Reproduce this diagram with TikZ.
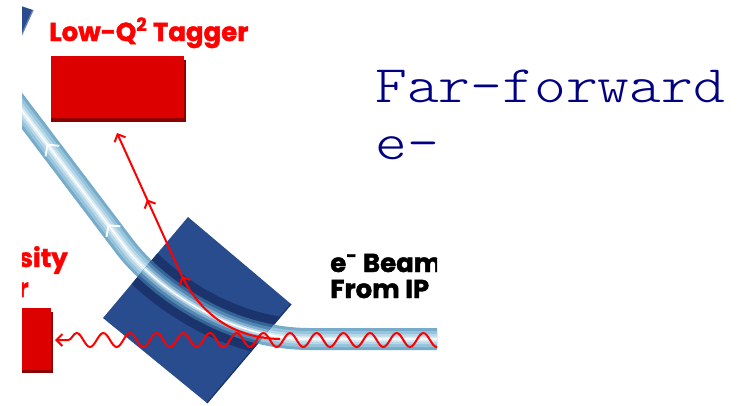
\documentclass[tikz,border=0pt]{standalone}
\usepackage{fontspec}
\newfontfamily\geofont{Poppins}[BoldFeatures={FakeBold=1.6}]
\newfontfamily\titlefont{lmmonolt10-regular.otf}[FakeStretch=1.15]
\usetikzlibrary{arrows.meta,decorations.pathmorphing,decorations.markings}

\definecolor{detred}{RGB}{221,0,0}
\definecolor{detshadow}{RGB}{140,0,0}
\definecolor{labelred}{RGB}{255,0,0}
\definecolor{magnet}{RGB}{41,76,142}
\definecolor{magnetdark}{RGB}{28,52,110}
\definecolor{titlenavy}{RGB}{0,0,128}
% beam pipe, from the outer wall to the centre line
\definecolor{tubeA}{RGB}{118,172,202}
\definecolor{tubeB}{RGB}{150,196,220}
\definecolor{tubeC}{RGB}{184,216,232}
\definecolor{tubeD}{RGB}{220,236,244}
% the same, seen through the magnet
\definecolor{tubeinA}{RGB}{52,100,150}
\definecolor{tubeinB}{RGB}{85,135,180}
\definecolor{tubeinC}{RGB}{130,175,205}
\definecolor{tubeinD}{RGB}{185,215,232}

% centre line of the electron beam pipe (coordinates in pixels)
\def\beampipe{(445,339) -- (310,339) .. controls (220,339) and (150,280) .. (125,247) -- (10,95)}
\def\magnetface{(188,217) -- (291,304) -- (207,403) -- (103,318) -- cycle}

\begin{document}
\begin{tikzpicture}[x=0.75pt,y=-0.75pt,>={Straight Barb[length=4.5pt,width=9pt]},
  redlabel/.style={inner sep=0pt,text=labelred,font=\geofont\bfseries\fontsize{19.5}{22}\selectfont},
  blacklabel/.style={inner sep=0pt,font=\geofont\bfseries\fontsize{19.5}{22}\selectfont},
  titletext/.style={inner sep=0pt,text=titlenavy,font=\titlefont\fontsize{39.5}{46}\selectfont},
  electron/.style={labelred,line width=1.5pt},
  photon/.style={electron,decorate,
    decoration={snake,amplitude=5.25pt,segment length=20pt,post length=10pt}},
  beamtip/.style={white,line width=1.4pt}]
  \useasboundingbox (0,0) rectangle (737,405);

  \begin{scope}
    \clip (22,0) rectangle (437,405);
    % Magnets.
    \fill[magnet] (0,-1) -- (33,10) -- (13,54) -- cycle;
    \draw[magnet!70!white,line width=1pt] (33,10) -- (13,54);
    \fill[magnet] \magnetface;
    \draw[magnetdark,line width=1pt] (291,304) -- (207,403);
    % Beam pipe.
    \foreach \w/\c in {16.5/tubeA,12/tubeB,7.5/tubeC,3.75/tubeD,1.1/white}
      \draw[\c,line width=\w pt] \beampipe;
    \begin{scope}
      \clip \magnetface;
      \draw[magnetdark,line width=30pt] \beampipe;
      \foreach \w/\c in {16.5/tubeinA,12/tubeinB,7.5/tubeinC,3.75/tubeinD,1.1/white}
        \draw[\c,line width=\w pt] \beampipe;
    \end{scope}
    \path[decorate,decoration={markings,
        mark=at position 0.15 with {\arrow[beamtip]{Straight Barb[length=6pt,width=13pt]}},
        mark=at position 0.68 with {\arrow[beamtip]{Straight Barb[length=6pt,width=13pt]}}}]
      (125,247) -- (10,95);

    % Detectors.
    \fill[detshadow] (51,60) rectangle (186,122);
    \fill[detred] (51,56) rectangle (184,118);
    \fill[detshadow] (10,312) rectangle (53,373);
    \fill[detred] (10,308) rectangle (51,370);

    % Scattered electron and bremsstrahlung photon.
    \draw[electron,->,postaction={decorate},decoration={markings,
        mark=at position 0.44 with {\arrow{>}},
        mark=at position 0.74 with {\arrow{>}}}]
      (280,339) .. controls (225,338) and (195,305) .. (180,272) -- (117,133);
    \draw[photon,->] (445,340) -- (55,340);

    \node[redlabel,anchor=base east] (lumi) at (68,267) {Luminosity};
    \node[redlabel,anchor=base east] (monitor) at (29,297) {Monitor};
    \node[blacklabel,anchor=base west] (beam) at (330,272) {e\textsuperscript{-} Beam};
    \node[blacklabel,anchor=base west] (fromip) at (330,298) {From IP};
  \end{scope}

  \node[redlabel,anchor=base west] (tagger) at (49,41) {Low-Q\textsuperscript{2} Tagger};
  \node[titletext,anchor=base west] (title) at (375,102) {Far-forward};
  \node[titletext,anchor=base west] (subtitle) at (375,159) {e-};
\end{tikzpicture}
\end{document}
